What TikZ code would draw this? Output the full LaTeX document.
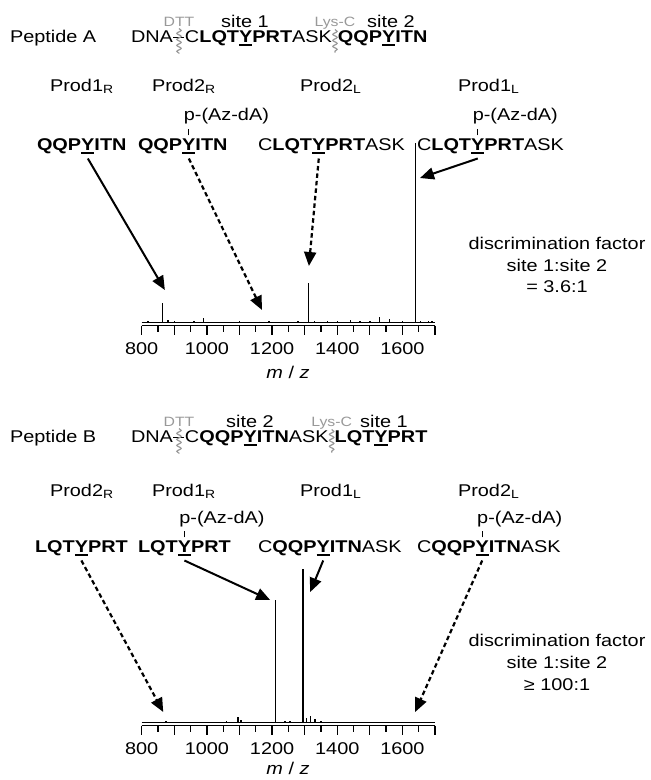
\documentclass[tikz,border=0pt]{standalone}
\usepackage{fontspec}
\setmainfont[FakeStretch=1.17]{Liberation Sans}
\usetikzlibrary{arrows.meta,decorations.pathmorphing,calc}
\definecolor{dtgray}{gray}{0.6}
\newcommand\mainsz{\fontsize{17}{20}\selectfont}
\newcommand\greysz{\fontsize{13.5}{15}\selectfont}
\newsavebox\ybox
\newcommand\ulY[1]{\sbox\ybox{#1}\rlap{\rule[-3.5pt]{\wd\ybox}{1.8pt}}\usebox\ybox}
\begin{document}
\begin{tikzpicture}[x=1pt, y=-1pt,
  every node/.style={inner sep=0pt, outer sep=0pt, font=\mainsz},
  bw/.style={anchor=base west},
  lbl/.style={anchor=base},
  grey/.style={font=\greysz, text=dtgray},
  squig/.style={draw=dtgray, line width=1.2pt, decorate, decoration={snake, segment length=6pt, amplitude=2.2pt}},
  solidarr/.style={line width=2pt, -{Triangle[length=14pt, width=12pt]}},
  dasharr/.style={line width=2.2pt, dash pattern=on 4.5pt off 3pt, -{Triangle[length=14pt, width=12pt]}},
  tickmk/.style={line width=0.7pt},
  spec/.style={line width=1.5pt},
  axisln/.style={line width=1.4pt},
  tickln/.style={line width=1.3pt},
  dnaline/.style={line width=1.2pt},
]
\useasboundingbox (0,0) rectangle (651,780);

% ================= PANEL A =================
\node[bw] (pepA) at (10,42.5) {Peptide A};
\node[bw] (dnaA) at (131,42.5) {DNA};
\node[bw] (hA1) at ([xshift=12pt]dnaA.base east) {C\textbf{LQT\ulY{Y}PRT}ASK};
\node[bw] (hA2) at ([xshift=6pt]hA1.base east) {\textbf{QQP\ulY{Y}ITN}};
\draw[dnaline] ([shift={(0.5pt,4.8pt)}]dnaA.base east) -- ([shift={(-0.5pt,4.8pt)}]hA1.base west);
\coordinate (sqA1) at ($(dnaA.base east)!0.5!(hA1.base west)$);
\coordinate (sqA2) at ($(hA1.base east)!0.5!(hA2.base west)$);
\draw[squig] ([yshift=14pt]sqA1) -- ([yshift=-11pt]sqA1);
\draw[squig] ([yshift=13pt]sqA2) -- ([yshift=-10pt]sqA2);
\node[grey, lbl] (dttA) at (sqA1 |- 0,26) {DTT};
\node[grey, lbl] (lysA) at (sqA2 |- 0,26) {Lys-C};
\node[lbl] (siteA1) at (245,27) {site 1};
\node[lbl] (siteA2) at (391,27) {site 2};

\node[bw] (pA1) at (50,91) {Prod1\textsubscript{R}};
\node[bw] (pA2) at (152,91) {Prod2\textsubscript{R}};
\node[bw] (pA3) at (300,91) {Prod2\textsubscript{L}};
\node[bw] (pA4) at (458,91) {Prod1\textsubscript{L}};

\node[bw] (sA1a) at (37,150) {\textbf{QQP}};
\node[bw] (sA1y) at (sA1a.base east) {\ulY{\textbf{Y}}};
\node[bw] (sA1b) at (sA1y.base east) {\textbf{ITN}};
\node[bw] (sA2a) at (138,150) {\textbf{QQP}};
\node[bw] (sA2y) at (sA2a.base east) {\ulY{\textbf{Y}}};
\node[bw] (sA2b) at (sA2y.base east) {\textbf{ITN}};
\node[bw] (sA3a) at (258,150) {C\textbf{LQT}};
\node[bw] (sA3y) at (sA3a.base east) {\ulY{\textbf{Y}}};
\node[bw] (sA3b) at (sA3y.base east) {\textbf{PRT}ASK};
\node[bw] (sA4a) at (417,150) {C\textbf{LQT}};
\node[bw] (sA4y) at (sA4a.base east) {\ulY{\textbf{Y}}};
\node[bw] (sA4b) at (sA4y.base east) {\textbf{PRT}ASK};

\coordinate (rowAzA) at (0,120);
\node[bw, xshift=-5pt] (azA1) at (sA2y.north |- rowAzA) {p-(Az-dA)};
\node[bw, xshift=-5pt] (azA2) at (sA4y.north |- rowAzA) {p-(Az-dA)};
\draw[tickmk] ([yshift=3pt]sA2y.north) -- ([yshift=9pt]sA2y.north);
\draw[tickmk] ([yshift=3pt]sA4y.north) -- ([yshift=9pt]sA4y.north);

\node (dfA1) at (557,243) {discrimination factor};
\node (dfA2) at (557,265) {site 1:site 2};
\node (dfA3) at (557,287) {= 3.6:1};

\begin{scope}[shift={(-119,0)}, x=0.3259pt]
  \draw[axisln] (800,325.5) -- (1700,325.5);
  \foreach \m in {800,900,...,1700} \draw[tickln] (\m,325.5) -- (\m,335);
  \foreach \m in {850,950,...,1650} \draw[tickln] (\m,325.5) -- (\m,331.5);
  \foreach \m in {800,1000,...,1600} \node (lA\m) at (\m,349) {\m};
  \draw[spec] (800,322.5) -- (1700,322.5);
  \foreach \m/\h in {820/321,840/321.5,863/303,880/319.5,900/321,930/321.5,960/321,990/318,1050/321.5,1100/321,1150/321.5,1190/321,1250/321.5,1280/321,1311/283,1330/321,1370/320.5,1400/321,1440/319.5,1470/320.5,1500/321,1530/317,1560/319,1600/321,1640/143,1655/320.5,1680/321,1690/320.5}
    \draw[spec] (\m,322.5) -- (\m,\h);
  \coordinate (tA1) at (871,290);
  \coordinate (tA2) at (1169,310);
  \coordinate (tA3) at (1313,266);
  \coordinate (tA4) at (1654,178);
\end{scope}
\node (mzA) at (288,372) {\textit{m} / \textit{z}};

\draw[solidarr] ([yshift=-5pt]sA1y.south) -- (tA1);
\draw[dasharr] ([yshift=-5pt]sA2y.south) -- (tA2);
\draw[dasharr] ([yshift=-5pt]sA3y.south) -- (tA3);
\draw[solidarr] ([yshift=-5pt]sA4y.south) -- (tA4);

% ================= PANEL B =================
\node[bw] (pepB) at (10,442.5) {Peptide B};
\node[bw] (dnaB) at (131,442.5) {DNA};
\node[bw] (hB1) at ([xshift=12pt]dnaB.base east) {C\textbf{QQP\ulY{Y}ITN}ASK};
\node[bw] (hB2) at ([xshift=6pt]hB1.base east) {\textbf{LQT\ulY{Y}PRT}};
\draw[dnaline] ([shift={(0.5pt,4.8pt)}]dnaB.base east) -- ([shift={(-0.5pt,4.8pt)}]hB1.base west);
\coordinate (sqB1) at ($(dnaB.base east)!0.5!(hB1.base west)$);
\coordinate (sqB2) at ($(hB1.base east)!0.5!(hB2.base west)$);
\draw[squig] ([yshift=14pt]sqB1) -- ([yshift=-11pt]sqB1);
\draw[squig] ([yshift=13pt]sqB2) -- ([yshift=-10pt]sqB2);
\node[grey, lbl] (dttB) at (sqB1 |- 0,426) {DTT};
\node[grey, lbl] (lysB) at (sqB2 |- 0,426) {Lys-C};
\node[lbl] (siteB2) at (250,427) {site 2};
\node[lbl] (siteB1) at (384,427) {site 1};

\node[bw] (pB1) at (50,496) {Prod2\textsubscript{R}};
\node[bw] (pB2) at (152,496) {Prod1\textsubscript{R}};
\node[bw] (pB3) at (300,496) {Prod1\textsubscript{L}};
\node[bw] (pB4) at (458,496) {Prod2\textsubscript{L}};

\node[bw] (sB1a) at (35,552) {\textbf{LQT}};
\node[bw] (sB1y) at (sB1a.base east) {\ulY{\textbf{Y}}};
\node[bw] (sB1b) at (sB1y.base east) {\textbf{PRT}};
\node[bw] (sB2a) at (138,552) {\textbf{LQT}};
\node[bw] (sB2y) at (sB2a.base east) {\ulY{\textbf{Y}}};
\node[bw] (sB2b) at (sB2y.base east) {\textbf{PRT}};
\node[bw] (sB3a) at (258,552) {C\textbf{QQP}};
\node[bw] (sB3y) at (sB3a.base east) {\ulY{\textbf{Y}}};
\node[bw] (sB3b) at (sB3y.base east) {\textbf{ITN}ASK};
\node[bw] (sB4a) at (417,552) {C\textbf{QQP}};
\node[bw] (sB4y) at (sB4a.base east) {\ulY{\textbf{Y}}};
\node[bw] (sB4b) at (sB4y.base east) {\textbf{ITN}ASK};

\coordinate (rowAzB) at (0,523);
\node[bw, xshift=-5pt] (azB1) at (sB2y.north |- rowAzB) {p-(Az-dA)};
\node[bw, xshift=-5pt] (azB2) at (sB4y.north |- rowAzB) {p-(Az-dA)};
\draw[tickmk] ([yshift=3pt]sB2y.north) -- ([yshift=9pt]sB2y.north);
\draw[tickmk] ([yshift=3pt]sB4y.north) -- ([yshift=9pt]sB4y.north);

\node (dfB1) at (557,640) {discrimination factor};
\node (dfB2) at (557,662) {site 1:site 2};
\node (dfB3) at (557,685) {≥ 100:1};

\begin{scope}[shift={(-119,0)}, x=0.3259pt]
  \draw[axisln] (800,725.5) -- (1700,725.5);
  \foreach \m in {800,900,...,1700} \draw[tickln] (\m,725.5) -- (\m,735);
  \foreach \m in {850,950,...,1650} \draw[tickln] (\m,725.5) -- (\m,731.5);
  \foreach \m in {800,1000,...,1600} \node (lB\m) at (\m,749) {\m};
  \draw[spec] (800,722.5) -- (1700,722.5);
  \foreach \m/\h in {875/720.5,940/721.5,1000/721.5,1060/721,1095/716.5,1105/720,1150/721.5,1210/600,1240/720.5,1255/721,1270/721.5,1295/569,1305/718,1318/716,1332/718.5,1350/721,1450/721.5,1560/721.5,1630/721.5}
    \draw[spec] (\m,722.5) -- (\m,\h);
  \coordinate (tB1) at (866,712);
  \coordinate (tB2) at (1194,600);
  \coordinate (tB3) at (1317,592);
  \coordinate (tB4) at (1639,712);
\end{scope}
\node (mzB) at (288,768) {\textit{m} / \textit{z}};

\draw[dasharr] ([yshift=-5pt]sB1y.south) -- (tB1);
\draw[solidarr] ([yshift=-5pt]sB2y.south) -- (tB2);
\draw[solidarr] ([yshift=-5pt]sB3y.south) -- (tB3);
\draw[dasharr] ([yshift=-5pt]sB4y.south) -- (tB4);
\end{tikzpicture}
\end{document}
